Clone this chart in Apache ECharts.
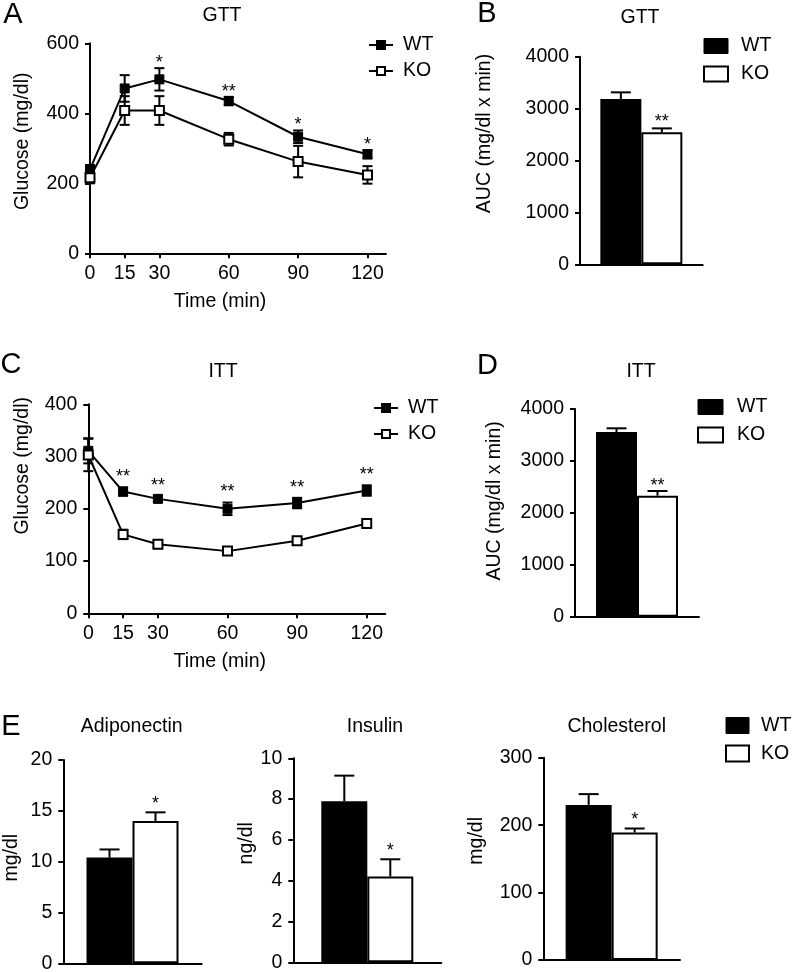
<!DOCTYPE html>
<html><head><meta charset="utf-8">
<script src="https://cdn.jsdelivr.net/npm/echarts@6/dist/echarts.min.js"></script>
<style>html,body{margin:0;padding:0;background:#fff}#c{width:800px;height:972px}</style>
</head><body><div id="c"></div>
<script>
// ---------- data ----------
const timeTicks = [0, 15, 30, 60, 90, 120];
const gttWT = [240, 471, 497, 435, 333, 283];
const gttWTErr = [12, 38, 32, 12, 18, 12];
const gttKO = [216, 408, 408, 326, 262, 224];
const gttKOErr = [16, 41, 41, 18, 45, 25];
const gttStars = ['', '', '*', '**', '*', '*'];

const ittWT = [311, 233, 219, 200, 211, 235];
const ittWTErr = [24, 8, 6, 12, 10, 10];
const ittKO = [303, 151, 132, 119, 139, 172];
const ittKOErr = [31, 9, 5, 4, 4, 5];
const ittStars = ['', '**', '**', '**', '**', '**'];

const groups = ['WT', 'KO'];
const gttAUC = [3184, 2542];
const gttAUCErr = [129, 77];
const gttAUCStars = ['', '**'];
const ittAUC = [3557, 2331];
const ittAUCErr = [71, 90];
const ittAUCStars = ['', '**'];
const adiponectin = [10.4, 14.0];
const adiponectinErr = [0.8, 0.85];
const adiponectinStars = ['', '*'];
const insulin = [7.9, 4.2];
const insulinErr = [1.25, 0.85];
const insulinStars = ['', '*'];
const cholesterol = [230, 189];
const cholesterolErr = [16, 6];
const cholesterolStars = ['', '*'];

// ---------- helpers ----------
const FONT = '"Liberation Sans", Arial, Helvetica, sans-serif';
const FS = 19.5;
const K = '#000';
const grids = [], xAxes = [], yAxes = [];
const lineSeries = [], otherSeries = [];

function axisLine() { return { show: true, onZero: false, lineStyle: { color: K, width: 2 } }; }
function axisTick(extra) { return Object.assign({ show: true, length: 5, lineStyle: { color: K, width: 2 } }, extra || {}); }
function axisLabel(extra) { return Object.assign({ color: K, fontSize: FS, fontFamily: FONT, margin: 11, formatter: (v) => String(v) }, extra || {}); }
function nameStyle(padding) { return { color: K, fontSize: FS, fontFamily: FONT, padding: padding }; }

function lineErr(cap) {
  return function (params, api) {
    const x = api.value(0);
    const a = api.coord([x, api.value(1)]);
    const b = api.coord([x, api.value(2)]);
    const st = { stroke: K, lineWidth: 2 };
    return { type: 'group', children: [
      { type: 'line', shape: { x1: a[0], y1: a[1], x2: b[0], y2: b[1] }, style: st },
      { type: 'line', shape: { x1: a[0] - cap, y1: a[1], x2: a[0] + cap, y2: a[1] }, style: st },
      { type: 'line', shape: { x1: b[0] - cap, y1: b[1], x2: b[0] + cap, y2: b[1] }, style: st }
    ] };
  };
}
function barErr(halfW, cap) {
  return function (params, api) {
    const sign = params.dataIndex === 0 ? -1 : 1;
    const a = api.coord([api.value(0), api.value(1)]);
    const b = api.coord([api.value(0), api.value(2)]);
    const x = a[0] + sign * halfW;
    const st = { stroke: K, lineWidth: 2 };
    return { type: 'group', children: [
      { type: 'line', shape: { x1: x, y1: a[1], x2: x, y2: b[1] }, style: st },
      { type: 'line', shape: { x1: x - cap, y1: b[1], x2: x + cap, y2: b[1] }, style: st }
    ] };
  };
}
function starItem(stars, off, dxFn) {
  return function (params, api) {
    const s = stars[params.dataIndex];
    if (!s) return null;
    const p = api.coord([api.value(0), api.value(1)]);
    return { type: 'text', x: p[0] + dxFn(params.dataIndex), y: p[1] - off,
      style: { text: s, fill: K, font: '18px ' + FONT, align: 'center', verticalAlign: 'middle' } };
  };
}

function addLinePanel(p) {
  const gi = grids.length;
  grids.push({ left: p.rect[0], top: p.rect[1], width: p.rect[2], height: p.rect[3], outerBoundsMode: 'none' });
  xAxes.push({ gridIndex: gi, type: 'value', min: 0, max: 128,
    axisLine: axisLine(), axisTick: axisTick({ customValues: timeTicks }),
    axisLabel: axisLabel({ customValues: timeTicks, margin: 10 }), splitLine: { show: false },
    name: 'Time (min)', nameLocation: 'middle', nameGap: p.xGap, nameTextStyle: nameStyle([0, p.xShift * 2, 0, 0]) });
  yAxes.push({ gridIndex: gi, type: 'value', min: 0, max: p.yMax, interval: p.yInt,
    axisLine: axisLine(), axisTick: axisTick(), axisLabel: axisLabel(), splitLine: { show: false },
    name: p.yName, nameLocation: 'middle', nameGap: p.yGap, nameTextStyle: nameStyle([0, 0, 0, p.yShift * 2]) });
  const mk = (vals) => timeTicks.map((t, i) => [t, vals[i]]);
  const mkErr = (vals, err) => timeTicks.map((t, i) => [t, vals[i] - err[i], vals[i] + err[i]]);
  [[p.wtErr, p.wt], [p.koErr, p.ko]].forEach(([err, vals]) => {
    otherSeries.push({ type: 'custom', xAxisIndex: gi, yAxisIndex: gi, z: 1, clip: false,
      renderItem: lineErr(5), encode: { x: 0, y: [1, 2] }, data: mkErr(vals, err), silent: true });
  });
  lineSeries.push({ name: 'WT', type: 'line', xAxisIndex: gi, yAxisIndex: gi, z: 3,
    data: mk(p.wt), symbol: 'rect', symbolSize: 9, showAllSymbol: true,
    lineStyle: { color: K, width: 2 }, itemStyle: { color: K, borderColor: K, borderWidth: 1 } });
  lineSeries.push({ name: 'KO', type: 'line', xAxisIndex: gi, yAxisIndex: gi, z: 3,
    data: mk(p.ko), symbol: 'rect', symbolSize: 9, showAllSymbol: true,
    lineStyle: { color: K, width: 2 }, itemStyle: { color: '#fff', borderColor: K, borderWidth: 2 } });
  otherSeries.push({ type: 'custom', xAxisIndex: gi, yAxisIndex: gi, z: 4, clip: false,
    renderItem: starItem(p.stars, p.starOff, () => 0), encode: { x: 0, y: 1 },
    data: timeTicks.map((t, i) => [t, p.wt[i] + p.wtErr[i]]), silent: true });
}

function addBarPanel(p) {
  const gi = grids.length;
  grids.push({ left: p.rect[0], top: p.rect[1], width: p.rect[2], height: p.rect[3], outerBoundsMode: 'none' });
  xAxes.push({ gridIndex: gi, type: 'category', data: [p.cat],
    axisLine: axisLine(), axisTick: { show: false }, axisLabel: { show: false }, splitLine: { show: false } });
  yAxes.push({ gridIndex: gi, type: 'value', min: 0, max: p.yMax, interval: p.yInt,
    axisLine: axisLine(), axisTick: axisTick(), axisLabel: axisLabel(), splitLine: { show: false },
    name: p.yName, nameLocation: 'middle', nameGap: p.yGap, nameTextStyle: nameStyle([0, 0, 0, p.yShift * 2]) });
  otherSeries.push({ name: 'WT', type: 'bar', xAxisIndex: gi, yAxisIndex: gi, z: 2,
    data: [p.vals[0]], barWidth: p.barW, barGap: '0%',
    itemStyle: { color: K, borderColor: K, borderWidth: 2 } });
  otherSeries.push({ name: 'KO', type: 'bar', xAxisIndex: gi, yAxisIndex: gi, z: 2,
    data: [p.vals[1]], barWidth: p.barW, barGap: '0%',
    itemStyle: { color: '#fff', borderColor: K, borderWidth: 2 } });
  otherSeries.push({ type: 'custom', xAxisIndex: gi, yAxisIndex: gi, z: 3, clip: false,
    renderItem: barErr(p.barW / 2, 10), encode: { x: 0, y: [1, 2] },
    data: groups.map((g, i) => [0, p.vals[i], p.vals[i] + p.errs[i]]), silent: true });
  otherSeries.push({ type: 'custom', xAxisIndex: gi, yAxisIndex: gi, z: 4, clip: false,
    renderItem: starItem(p.stars, p.starOff, (i) => (i === 0 ? -1 : 1) * p.barW / 2), encode: { x: 0, y: 1 },
    data: groups.map((g, i) => [0, p.vals[i] + p.errs[i]]), silent: true });
}

// ---------- panels ----------
addLinePanel({ rect: [90, 43.3, 296, 210], wt: gttWT, wtErr: gttWTErr, ko: gttKO, koErr: gttKOErr, stars: gttStars,
  yMax: 600, yInt: 200, yName: 'Glucose (mg/dl)', yGap: 57, yShift: 7, xGap: 38, xShift: 18, starOff: 5 });
addBarPanel({ rect: [580, 56.7, 122.7, 207.6], cat: 'GTT', vals: gttAUC, errs: gttAUCErr, stars: gttAUCStars,
  yMax: 4000, yInt: 1000, yName: 'AUC (mg/dl x min)', yGap: 85, yShift: 27, barW: 41, starOff: 6 });
addLinePanel({ rect: [88.3, 404.3, 297, 209], wt: ittWT, wtErr: ittWTErr, ko: ittKO, koErr: ittKOErr, stars: ittStars,
  yMax: 400, yInt: 100, yName: 'Glucose (mg/dl)', yGap: 56, yShift: 43, xGap: 38, xShift: 17, starOff: 10 });
addBarPanel({ rect: [575, 409, 124, 207.7], cat: 'ITT', vals: ittAUC, errs: ittAUCErr, stars: ittAUCStars,
  yMax: 4000, yInt: 1000, yName: 'AUC (mg/dl x min)', yGap: 70, yShift: 12, barW: 41, starOff: 5 });
addBarPanel({ rect: [63.3, 760, 138.4, 203.3], cat: 'Adiponectin', vals: adiponectin, errs: adiponectinErr, stars: adiponectinStars,
  yMax: 20, yInt: 5, yName: 'mg/dl', yGap: 42, yShift: 4, barW: 46, starOff: 8 });
addBarPanel({ rect: [293.3, 758.3, 148, 204], cat: 'Insulin', vals: insulin, errs: insulinErr, stars: insulinStars,
  yMax: 10, yInt: 2, yName: 'ng/dl', yGap: 37, yShift: 17, barW: 46, starOff: 8 });
addBarPanel({ rect: [543.3, 757.7, 136.7, 202.3], cat: 'Cholesterol', vals: cholesterol, errs: cholesterolErr, stars: cholesterolStars,
  yMax: 300, yInt: 100, yName: 'mg/dl', yGap: 57, yShift: 18, barW: 46, starOff: 8 });

// ---------- legends ----------
const legText = { color: K, fontSize: FS, fontFamily: FONT };
function lineLegend(left, top) {
  return { left: left, top: top, orient: 'vertical', padding: 0, itemWidth: 24, itemHeight: 10, itemGap: 6,
    selectedMode: false, data: groups, textStyle: Object.assign({ padding: [0, 0, 0, 5] }, legText) };
}
function barLegend(left, top, w, h, pad) {
  return { left: left, top: top, orient: 'vertical', padding: 0, itemWidth: w, itemHeight: h, itemGap: 8,
    selectedMode: false, textStyle: Object.assign({ padding: [0, 0, 0, pad] }, legText),
    data: [
      { name: 'WT', icon: 'rect', itemStyle: { color: K, borderColor: K, borderWidth: 1 } },
      { name: 'KO', icon: 'rect', itemStyle: { color: '#fff', borderColor: K, borderWidth: 2 } }
    ] };
}

// ---------- titles / panel letters ----------
function txt(s, x, y, size) {
  return { type: 'text', x: x, y: y, style: { text: s, fill: K, font: (size || FS) + 'px ' + FONT, align: 'center', verticalAlign: 'middle' } };
}

const option = {
  animation: false,
  backgroundColor: '#fff',
  grid: grids,
  xAxis: xAxes,
  yAxis: yAxes,
  legend: [
    lineLegend(368, 35),
    barLegend(703, 36, 24, 15, 8),
    lineLegend(373, 398),
    barLegend(697, 397, 25, 15, 9),
    barLegend(725, 715.5, 23, 16, 7)
  ],
  graphic: [
    txt('A', 13, 15, 29), txt('GTT', 222, 16),
    txt('B', 487, 14, 29), txt('GTT', 640, 18),
    txt('C', 11, 365, 29), txt('ITT', 223, 371.5),
    txt('D', 487.5, 366, 29), txt('ITT', 641, 371.5),
    txt('E', 11, 727, 29), txt('Adiponectin', 131.7, 726.7),
    txt('Insulin', 375, 727), txt('Cholesterol', 616.7, 726.7)
  ],
  series: lineSeries.concat(otherSeries)
};

const chart = echarts.init(document.getElementById('c'), null, { renderer: 'canvas' });
chart.setOption(option);
</script>
</body></html>
